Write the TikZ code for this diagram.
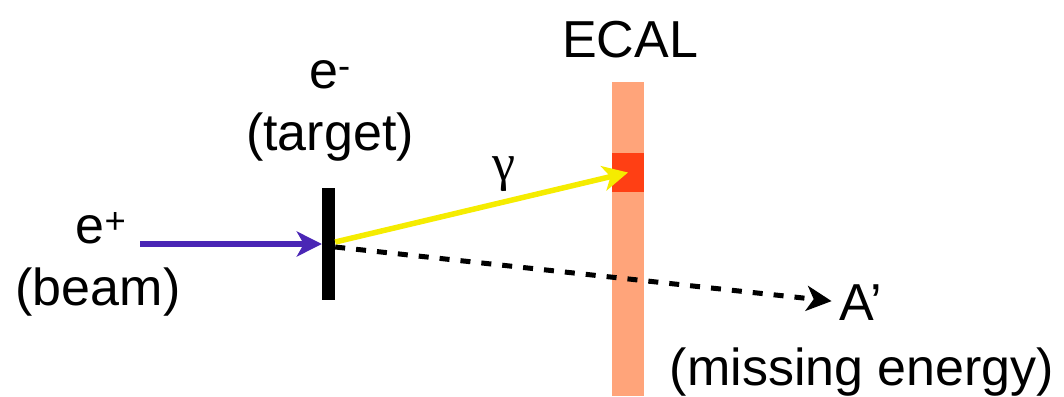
\documentclass[tikz,border=0pt]{standalone}
\usepackage{fontspec}
\setmainfont{Liberation Sans}
\newfontfamily\greekfont{Liberation Serif}
\usepackage{tikz}
\usetikzlibrary{arrows.meta,calc}
\definecolor{beamcol}{RGB}{74,38,181}
\definecolor{photoncol}{RGB}{245,236,0}
\definecolor{ecalcol}{RGB}{255,164,122}
\definecolor{hitcol}{RGB}{255,63,20}
\tikzset{lbl/.style={
            inner sep=0pt,
            anchor=base,
            font=\fontsize{52}{62}\selectfont
        },
        bar/.style={
            rectangle,
            inner sep=0pt,
            minimum width=32pt
        },
        foil/.style={
            rectangle,
            fill=black,
            inner sep=0pt,
            minimum width=13pt,
            minimum height=112pt
        },
        track/.style={
            line width=5.5pt,
            arrows={-Stealth[length=25pt,width=25pt,inset=7pt]}
        },
        invisible/.style={
            track,
            line width=5pt,
            dash pattern=on 10pt off 11pt
        }
    }
\begin{document}
\begin{tikzpicture}[x=1pt,y=-1pt,line join=round]
\useasboundingbox (0,0) rectangle (1064,396);
\node[bar,fill=ecalcol,minimum height=314pt] (ecal) at (628,239) {};
\node[bar,fill=hitcol,minimum height=39pt] (hit) at (628,172.5) {};
\node[foil] (target) at (328.5,244) {};
\coordinate (beamstart) at (140,244);
\node[lbl] (ecallbl) at (630,57) {ECAL};
\node[lbl] (eminus) at (330,88) {e\textsuperscript{-}};
\node[lbl] (targetlbl) at (330,150) {(target)};
\node[lbl] (eplus) at (101,243) {e\textsuperscript{+}};
\node[lbl] (beamlbl) at (98,305) {(beam)};
\node[lbl,font=\fontsize{52}{62}\greekfont] (gammalbl) at (504,180) {γ};
\node[lbl] (aprime) at (861,320) {A’};
\node[lbl] (missing) at (862,385) {(missing energy)};
\draw[track,color=beamcol] (beamstart) -- (beamstart -| target.west);
\draw[track,color=photoncol] ([yshift=2pt]target.east) -- (hit.center);
\draw[invisible,color=black] ([yshift=-3pt]target.east) -- ([xshift=-8pt,yshift=1pt]aprime.west);
\end{tikzpicture}
\end{document}
